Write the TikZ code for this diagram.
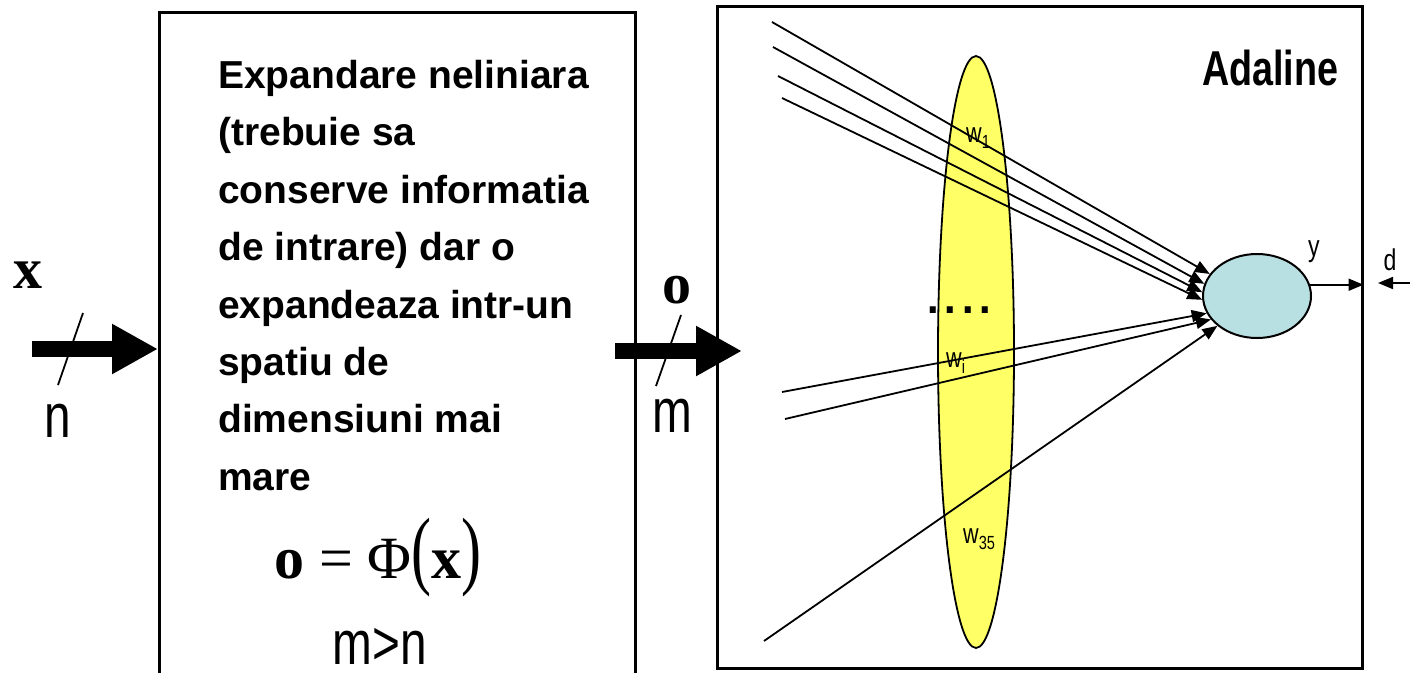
\documentclass[tikz,border=0pt]{standalone}
\usepackage{fontspec}
\usepackage{graphicx}
\setmainfont{Liberation Sans}
\newfontfamily\serifb{Liberation Serif}
\usetikzlibrary{arrows.meta,shapes.geometric}
\definecolor{yellowc}{HTML}{FFFF66}
\definecolor{bluec}{HTML}{B8DFE2}
\newcommand\cnd[1]{\scalebox{0.77}[1]{#1}}
\newcommand\subl[1]{\raisebox{-6pt}{\fontsize{19}{19}\selectfont #1}}
\newcommand\tallp[1]{\scalebox{1}[1.45]{#1}}
\tikzset{
  box/.style={draw, line width=2.5pt, rectangle, inner sep=0pt, anchor=north west},
  bigarrow/.style={line width=16pt, -{Triangle[length=46pt,width=47pt]}},
  conn/.style={line width=1.8pt, -{Triangle[length=15pt,width=12pt]}},
  slash/.style={line width=1.8pt},
  bigserif/.style={font=\serifb\bfseries\fontsize{58}{58}\selectfont, inner sep=0pt},
  biglabel/.style={font=\fontsize{62}{62}\selectfont, inner sep=0pt},
  wlabel/.style={font=\fontsize{28}{28}\selectfont, inner sep=0pt, anchor=base west},
  small/.style={font=\fontsize{30}{30}\selectfont, inner sep=0pt, anchor=base},
}
\begin{document}
\begin{tikzpicture}[x=1pt,y=-1pt]
\useasboundingbox (0,0) rectangle (1410,672);
\clip (0,0) rectangle (1410,672);
% boxes
\node[box, minimum width=476pt, minimum height=700pt] (exp) at (158,11) {};
\node[box, minimum width=645pt, minimum height=662pt] (ada) at (716,5) {};
% left box text
\node[anchor=north west, align=left, inner sep=0pt, font=\fontsize{39}{57.4}\selectfont\bfseries] (desc) at (218,60)
  {Expandare neliniara\\(trebuie sa\\conserve informatia\\de intrare) dar o\\expandeaza intr-un\\spatiu de\\dimensiuni mai\\mare};
\node[anchor=base, inner sep=0pt, font=\serifb\fontsize{60}{60}\selectfont] (phi) at (378,578)
  {{\bfseries o} = Φ\tallp{(}{\bfseries x}\tallp{)}};
\node[biglabel, anchor=base] (mn) at (380,664) {\cnd{m>n}};
% input x
\node[bigserif, anchor=base] (xl) at (28,288) {x};
\node[biglabel, anchor=base] (nl) at (58,437) {\cnd{n}};
\coordinate (xin) at (32,349);
\draw[bigarrow] (xin) -- (exp.west |- xin);
\draw[slash] (83,313) -- (58,385);
% output o
\node[bigserif, anchor=base] (ol) at (677,303) {o};
\node[biglabel, anchor=base] (ml) at (672,432) {\cnd{m}};
\coordinate (os) at (615,351);
\coordinate (oe) at (742,351);
\draw[bigarrow] (os) -- (oe);
\draw[slash] (681,315) -- (656,386);
% Adaline
\node[anchor=base west, inner sep=0pt, font=\fontsize{49}{49}\selectfont\bfseries] (adl) at (1202,85) {\cnd{Adaline}};
% weights ellipse
\node[draw, ellipse, fill=yellowc, minimum width=76pt, minimum height=592pt, inner sep=0pt, line width=1.8pt] (wts) at (976,352) {};
% neuron
\node[draw, ellipse, fill=bluec, minimum width=108pt, minimum height=84pt, inner sep=0pt, line width=2pt] (neu) at (1257,296) {};
% inputs
\coordinate (i1) at (772,22);
\coordinate (i2) at (773,47);
\coordinate (i3) at (778,76);
\coordinate (i4) at (782,98);
\coordinate (i5) at (782,392);
\coordinate (i6) at (785,419);
\coordinate (i7) at (764,641);
\draw[conn] (i1) -- (neu.155);
\draw[conn] (i2) -- (neu.167);
\draw[conn] (i3) -- (neu.176);
\draw[conn] (i4) -- (neu.184);
\draw[conn] (i5) -- (neu.199);
\draw[conn] (i6) -- (neu.207);
\draw[conn] (i7) -- (neu.217);
% labels on weights
\node[wlabel] (w1) at (966,142) {\cnd{w\subl{1}}};
\node[wlabel] (wi) at (946,367) {\cnd{w\subl{i}}};
\node[wlabel] (w35) at (963,543) {\cnd{w\subl{35}}};
\node[anchor=base, inner sep=0pt, font=\fontsize{63}{63}\selectfont] (dots) at (959,313) {....};
% output y and d
\draw[conn] (neu.12) -- (neu.12 -| ada.east);
\node[small] (yl) at (1314,256) {\cnd{y}};
\coordinate (ds) at (1410,283);
\coordinate (de) at (1378,283);
\draw[conn] (ds) -- (de);
\node[small] (dl) at (1390,270) {\cnd{d}};
\end{tikzpicture}
\end{document}
